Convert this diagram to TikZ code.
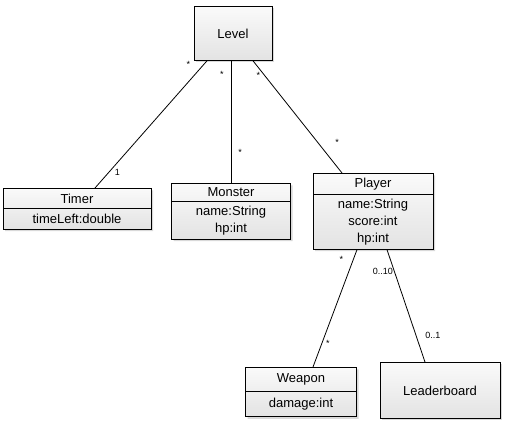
\documentclass[tikz,border=0pt]{standalone}
\usepackage{fontspec}
\setmainfont{Liberation Sans}
\usetikzlibrary{shapes.multipart, shadows}

\begin{document}
\begin{tikzpicture}[x=1pt, y=-1pt]
    % Common Styles
    \tikzset{box/.style={draw, line width=0.8pt, top color=gray!4, bottom color=gray!22, drop shadow={shadow xshift=2pt, shadow yshift=-2pt, opacity=0.3}, font=\fontsize{13}{17}\selectfont, align=center, inner xsep=4pt, inner ysep=4pt, anchor=north}}
    \tikzset{classbox/.style={box, rectangle split, rectangle split parts=2}}
    \tikzset{mult/.style={font=\fontsize{9}{9}\selectfont, inner sep=1pt}}
    \tikzset{assoc/.style={line width=0.8pt}}

    \useasboundingbox (0, 0) rectangle (506, 423);

    % Classes
    \node[box, minimum width=78pt, minimum height=54pt] (level) at (233, 6) {Level};
    \node[classbox, minimum width=148pt, inner ysep=5pt] (timer) at (77, 188) {Timer \nodepart{two} timeLeft:double};
    \node[classbox, minimum width=119pt] (monster) at (231, 183) {Monster \nodepart{two} name:String\\ hp:int};
    \node[classbox, minimum width=120pt] (player) at (373, 173) {Player \nodepart{two} name:String\\ score:int\\ hp:int};
    \node[classbox, minimum width=111pt, inner ysep=6pt] (weapon) at (301, 367) {Weapon \nodepart{two} damage:int};
    \node[box, minimum width=120pt, minimum height=56pt] (board) at (440, 362) {Leaderboard};

    % Associations
    \draw[assoc] ([xshift=-26pt]level.south) -- ([xshift=18pt]timer.north)
        node[mult, pos=0.03, left=12pt] {*} node[mult, pos=0.88, right=5pt] {1};
    \draw[assoc] ([xshift=-2pt]level.south) -- (monster.north)
        node[mult, pos=0.11, left=6pt] {*} node[mult, pos=0.75, right=6pt] {*};
    \draw[assoc] ([xshift=20pt]level.south) -- ([xshift=-31pt]player.north)
        node[mult, pos=0.13, left=3pt] {*} node[mult, pos=0.73, right=16pt] {*};
    \draw[assoc] ([xshift=-16pt]player.south) -- ([xshift=12pt]weapon.north)
        node[mult, pos=0.08, left=9pt] {*} node[mult, pos=0.8, right=3pt] {*};
    \draw[assoc] ([xshift=14pt]player.south) -- ([xshift=-15pt]board.north)
        node[mult, pos=0.19, left=0pt] {0..10} node[mult, pos=0.76, right=8pt] {0..1};
\end{tikzpicture}
\end{document}
